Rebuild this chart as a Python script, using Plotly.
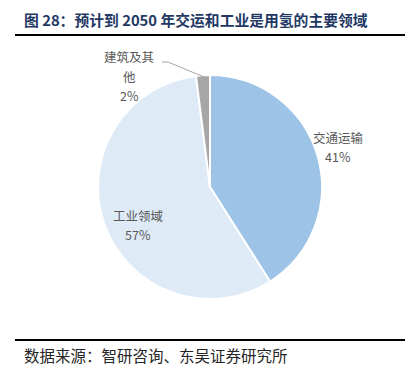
import plotly.graph_objects as go

categories = ["交通运输", "工业领域", "建筑及其他"]
values = [41, 57, 2]
label_lines = [["交通运输"], ["工业领域"], ["建筑及其", "他"]]
colors = ["#9DC3E6", "#DEEBF7", "#A6A6A6"]

OFF = 8  # page body margin
W, H = 413 - OFF, 377 - OFF

def px(x):
    return (x - OFF) / W

def py(y):
    return 1 - (y - OFF) / H

fig = go.Figure()
fig.add_trace(go.Pie(
    labels=categories, values=values, sort=False, direction="clockwise",
    rotation=0, textinfo="none", hoverinfo="label+percent",
    marker=dict(colors=colors, line=dict(color="white", width=2)),
    domain=dict(x=[px(98), px(322)], y=[py(299), py(75)]),
    showlegend=False,
))

# first-line centre of each label block; lines spaced ~19 px
label_pos = [(338, 137), (138, 215), (129, 57)]
LINE = 19
font_lbl = dict(family="Noto Sans CJK SC", size=12.5, color="#595959")
for (x, y), lines, v in zip(label_pos, label_lines, values):
    for i, t in enumerate(lines + [f"{v}%"]):
        fig.add_annotation(x=px(x), y=py(y + i * LINE), xref="paper", yref="paper",
                           text=t, showarrow=False, font=font_lbl,
                           xanchor="center", yanchor="middle")

# leader line for small slice
fig.add_shape(type="path", xref="paper", yref="paper",
              path=f"M {px(162)} {py(62)} L {px(168)} {py(62)} L {px(204)} {py(77)}",
              line=dict(color="#A6A6A6", width=1))

# title & rules
fig.add_annotation(x=px(22), y=py(20), xref="paper", yref="paper",
                   text="<b>图 28：预计到 2050 年交运和工业是用氢的主要领域</b>",
                   showarrow=False, xanchor="left", yanchor="middle",
                   font=dict(family="Noto Sans CJK SC", size=14.8, color="#1F3864"))
fig.add_shape(type="line", xref="paper", yref="paper",
              x0=px(15), x1=px(406), y0=py(35), y1=py(35),
              line=dict(color="black", width=2))
fig.add_shape(type="line", xref="paper", yref="paper",
              x0=px(15), x1=px(406), y0=py(340), y1=py(340),
              line=dict(color="black", width=2))
fig.add_annotation(x=px(22), y=py(355), xref="paper", yref="paper",
                   text="数据来源：智研咨询、东吴证券研究所",
                   showarrow=False, xanchor="left", yanchor="middle",
                   font=dict(family="Noto Sans CJK SC", size=15.5, color="#262626"))

fig.update_layout(width=W, height=H, margin=dict(l=0, r=0, t=0, b=0),
                  paper_bgcolor="white", plot_bgcolor="white")
fig.write_html("out.html")
